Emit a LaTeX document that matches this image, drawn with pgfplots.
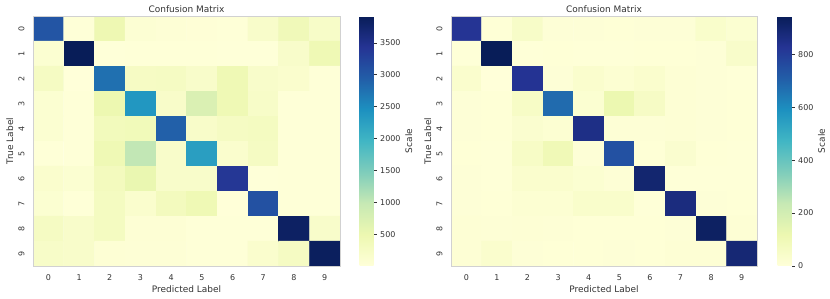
\documentclass[border=0pt]{standalone}
\usepackage{fontspec}
\setmainfont{DejaVu Sans}
\usepackage{pgfplots}
\pgfplotsset{compat=1.18}
\pgfplotsset{
  colormap={ylgnbu}{rgb255=(255,255,217) rgb255=(237,248,177) rgb255=(199,233,180) rgb255=(127,205,187) rgb255=(65,182,196) rgb255=(29,145,192) rgb255=(34,94,168) rgb255=(37,52,148) rgb255=(8,29,88)},
  /pgf/number format/assume math mode=true,
  /pgf/number format/1000 sep={},
  every tick label/.append style={font=\fontsize{8}{9.6}\selectfont, text=black!80},
  heat/.style={
    width=307bp, height=250bp, scale only axis,
    xmin=-0.5, xmax=9.5, ymin=-0.5, ymax=9.5,
    enlargelimits=false,
    xtick={0,...,9}, ytick={0,...,9},
    major tick length=0pt,
    axis line style={black!18},
    colormap name=ylgnbu,
    title={Confusion Matrix},
    xlabel={Predicted Label},
    ylabel={True Label},
    every axis title/.style={at={(axis description cs:0.5,1)}, anchor=base, yshift=3.8bp, inner sep=0pt, font=\fontsize{9}{10.8}\selectfont, text=black!80},
    every axis x label/.style={at={(axis description cs:0.5,0)}, anchor=base, yshift=-26.4bp, inner sep=0pt, font=\fontsize{9}{10.8}\selectfont, text=black!80},
    every axis y label/.style={at={(axis description cs:0,0.5)}, xshift=-20bp, rotate=90, anchor=base, inner sep=0pt, font=\fontsize{9}{10.8}\selectfont, text=black!80},
    xticklabel style={anchor=base, inner sep=0pt, yshift=-14bp},
    yticklabel style={xshift=-8.6bp, rotate=90, anchor=base, inner sep=0pt},
  },
  cbar/.style 2 args={
    colorbar,
    colorbar style={
      at={(parent axis.north east)}, anchor=north west, xshift=#1,
      width=14bp,
      ytick pos=right, yticklabel pos=right,
      tick align=outside, major tick length=3bp,
      tick style={black!80, line width=0.6bp},
      axis line style={draw=none},
      yticklabel style={anchor=west, inner sep=0pt, xshift=3.5bp},
      ylabel={Scale},
      every axis y label/.style={at={(axis description cs:1,0.5)}, xshift=#2, rotate=90, anchor=base, inner sep=0pt, font=\fontsize{9}{10.8}\selectfont, text=black!80},
    },
  },
}
\begin{document}
\begin{tikzpicture}
\useasboundingbox (0,0) rectangle (830bp,299bp);
\begin{axis}[heat, at={(33bp,33bp)}, anchor=south west,
  point meta min=5, point meta max=3920,
  cbar={11bp}{38.7bp},
  colorbar style={ytick={500,1000,1500,2000,2500,3000,3500}}]
\addplot[matrix plot, mesh/cols=10, point meta=explicit, faceted color=white!75!gray, line width=0.3bp]
table[row sep=\\, meta=c]{
x y c\\
0 0 3050\\ 1 0 35\\ 2 0 470\\ 3 0 75\\ 4 0 50\\ 5 0 45\\ 6 0 35\\ 7 0 185\\ 8 0 400\\ 9 0 210\\
0 1 100\\ 1 1 3920\\ 2 1 20\\ 3 1 35\\ 4 1 35\\ 5 1 35\\ 6 1 20\\ 7 1 20\\ 8 1 185\\ 9 1 440\\
0 2 270\\ 1 2 5\\ 2 2 2770\\ 3 2 260\\ 4 2 270\\ 5 2 185\\ 6 2 440\\ 7 2 185\\ 8 2 150\\ 9 2 35\\
0 3 100\\ 1 3 35\\ 2 3 500\\ 3 3 2380\\ 4 3 200\\ 5 3 745\\ 6 3 440\\ 7 3 210\\ 8 3 35\\ 9 3 35\\
0 4 100\\ 1 4 35\\ 2 4 360\\ 3 4 380\\ 4 4 2920\\ 5 4 200\\ 6 4 270\\ 7 4 300\\ 8 4 35\\ 9 4 35\\
0 5 35\\ 1 5 35\\ 2 5 440\\ 3 5 1020\\ 4 5 185\\ 5 5 2280\\ 6 5 150\\ 7 5 270\\ 8 5 35\\ 9 5 35\\
0 6 150\\ 1 6 100\\ 2 6 330\\ 3 6 530\\ 4 6 185\\ 5 6 185\\ 6 6 3400\\ 7 6 20\\ 8 6 35\\ 9 6 35\\
0 7 100\\ 1 7 25\\ 2 7 300\\ 3 7 150\\ 4 7 330\\ 5 7 440\\ 6 7 15\\ 7 7 3100\\ 8 7 25\\ 9 7 35\\
0 8 270\\ 1 8 185\\ 2 8 300\\ 3 8 60\\ 4 8 60\\ 5 8 25\\ 6 8 25\\ 7 8 25\\ 8 8 3830\\ 9 8 190\\
0 9 210\\ 1 9 185\\ 2 9 60\\ 3 9 50\\ 4 9 50\\ 5 9 35\\ 6 9 35\\ 7 9 150\\ 8 9 270\\ 9 9 3870\\
};
\end{axis}
\begin{axis}[heat, at={(451bp,33bp)}, anchor=south west, width=306bp,
  point meta min=0, point meta max=945,
  cbar={12bp}{33.4bp},
  colorbar style={ytick={0,200,400,600,800}}]
\addplot[matrix plot, mesh/cols=10, point meta=explicit, faceted color=white!75!gray, line width=0.3bp]
table[row sep=\\, meta=c]{
x y c\\
0 0 827\\ 1 0 8\\ 2 0 50\\ 3 0 10\\ 4 0 10\\ 5 0 8\\ 6 0 10\\ 7 0 10\\ 8 0 40\\ 9 0 25\\
0 1 5\\ 1 1 945\\ 2 1 5\\ 3 1 8\\ 4 1 5\\ 5 1 5\\ 6 1 8\\ 7 1 8\\ 8 1 10\\ 9 1 45\\
0 2 35\\ 1 2 0\\ 2 2 830\\ 3 2 10\\ 4 2 35\\ 5 2 20\\ 6 2 35\\ 7 2 15\\ 8 2 10\\ 9 2 5\\
0 3 10\\ 1 3 8\\ 2 3 55\\ 3 3 680\\ 4 3 25\\ 5 3 120\\ 6 3 60\\ 7 3 15\\ 8 3 10\\ 9 3 8\\
0 4 10\\ 1 4 8\\ 2 4 30\\ 3 4 20\\ 4 4 855\\ 5 4 12\\ 6 4 12\\ 7 4 15\\ 8 4 10\\ 9 4 8\\
0 5 8\\ 1 5 5\\ 2 5 55\\ 3 5 100\\ 4 5 10\\ 5 5 745\\ 6 5 8\\ 7 5 30\\ 8 5 8\\ 9 5 5\\
0 6 10\\ 1 6 6\\ 2 6 35\\ 3 6 35\\ 4 6 25\\ 5 6 12\\ 6 6 900\\ 7 6 5\\ 8 6 5\\ 9 6 5\\
0 7 10\\ 1 7 8\\ 2 7 20\\ 3 7 20\\ 4 7 40\\ 5 7 40\\ 6 7 5\\ 7 7 870\\ 8 7 10\\ 9 7 8\\
0 8 15\\ 1 8 12\\ 2 8 15\\ 3 8 12\\ 4 8 8\\ 5 8 8\\ 6 8 8\\ 7 8 10\\ 8 8 925\\ 9 8 15\\
0 9 15\\ 1 9 35\\ 2 9 10\\ 3 9 8\\ 4 9 8\\ 5 9 10\\ 6 9 8\\ 7 9 15\\ 8 9 15\\ 9 9 890\\
};
\end{axis}
\end{tikzpicture}
\end{document}
